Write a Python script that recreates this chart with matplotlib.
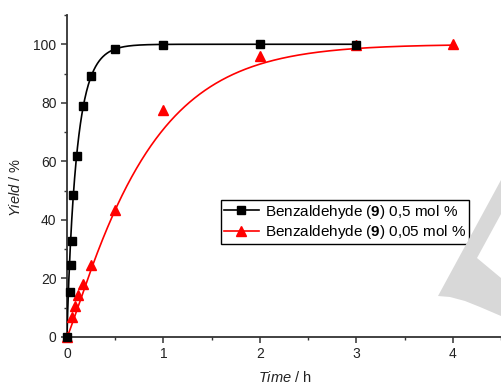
import matplotlib
matplotlib.use('Agg')
import matplotlib.pyplot as plt
import matplotlib.patches as mpatches
import numpy as np

plt.rcParams['font.family'] = ['Liberation Sans', 'DejaVu Sans']
plt.rcParams['mathtext.fontset'] = 'custom'
plt.rcParams['mathtext.rm'] = 'Liberation Sans'
plt.rcParams['mathtext.it'] = 'Liberation Sans:italic'
plt.rcParams['mathtext.bf'] = 'Liberation Sans:bold'

# data
t_high = [0, 0.035, 0.045, 0.05, 0.06, 0.1, 0.167, 0.25, 0.5, 1, 2, 3]
y_high = [0, 15.5, 24.6, 32.9, 48.6, 62, 78.8, 89.3, 98.4, 99.8, 100, 99.8]
t_low = [0, 0.05, 0.083, 0.117, 0.167, 0.25, 0.5, 1, 2, 3, 4]
y_low = [0, 7, 10.6, 14.2, 18, 24.6, 43.4, 77.4, 96, 99.6, 100]

# fitted curve parameters (y = 100(1 - exp(-(k t)^n)))
fit_high = (9.65, 0.9)
fit_low = (1.21, 1.12)

label_high = r'Benzaldehyde ($\mathbf{9}$) 0,5 mol %'
label_low = r'Benzaldehyde ($\mathbf{9}$) 0,05 mol %'

AX_COL = '#333333'


def fit_line(params, tmax):
    k, n = params
    tt = np.linspace(0, tmax, 800)
    return tt, 100 * (1 - np.exp(-(k * tt) ** n))


W, H = 501, 385
fig = plt.figure(figsize=(W / 100, H / 100), dpi=100)
fig.patch.set_facecolor('white')

# axes placed in pixel terms: x 67..501, y 15..337
ax = fig.add_axes([67 / W, 1 - 337 / H, (W - 67) / W, (337 - 15) / H])
ax.set_facecolor('none')
x_per_unit = (454 - 67) / 4
ax.set_xlim(0, (W - 67) / x_per_unit)
ax.set_ylim(0, 110)

tt, yy = fit_line(fit_high, max(t_high))
ax.plot(tt, yy, color='black', lw=1.2, zorder=3)
tt, yy = fit_line(fit_low, max(t_low))
ax.plot(tt, yy, color='red', lw=1.2, zorder=3)

ax.plot(t_low, y_low, 'r^', ms=7.5, zorder=4, clip_on=False)
ax.plot(t_high, y_high, 'ks', ms=6.3, zorder=5, clip_on=False)

# legend proxies
h1, = ax.plot([], [], color='black', marker='s', ms=6, lw=1.2)
h2, = ax.plot([], [], color='red', marker='^', ms=7, lw=1.2)
leg = ax.legend([h1, h2], [label_high, label_low], loc='upper left',
                bbox_to_anchor=((221 - 67) / (W - 67), (337 - 200) / (337 - 15)),
                fontsize=11, frameon=True, fancybox=False, framealpha=1,
                edgecolor='black', handlelength=2.3, handletextpad=0.4,
                borderpad=0.18, labelspacing=0.15, borderaxespad=0)
leg.get_frame().set_linewidth(1.0)

for s in ['top', 'right']:
    ax.spines[s].set_visible(False)
for s in ['left', 'bottom']:
    ax.spines[s].set_color(AX_COL)
    ax.spines[s].set_linewidth(1.3)

ax.set_xticks([0, 1, 2, 3, 4])
ax.set_xticks([0.5, 1.5, 2.5, 3.5, 4.5], minor=True)
ax.set_yticks([0, 20, 40, 60, 80, 100])
ax.set_yticks([10, 30, 50, 70, 90, 110], minor=True)
ax.tick_params(which='major', direction='out', length=4.5, width=1.1,
               color=AX_COL, labelsize=10, labelcolor='#222222', pad=3)
ax.tick_params(which='minor', direction='out', length=2.5, width=1.0,
               color=AX_COL)

ax.set_xlabel(r'$\mathit{Time}$ / h', fontsize=10.5, color='#222222')
ax.set_ylabel(r'$\mathit{Yield}$ / %', fontsize=10.5, color='#222222')
ax.xaxis.set_label_coords((285 - 67) / (W - 67), -(370 - 337) / (337 - 15))
ax.yaxis.set_label_coords(-(67 - 23) / (W - 67), (337 - 187) / (337 - 15))

# grey watermark shape in the lower right corner (pixel coords, y from top)
wm = [(501, 180), (438, 296), (450, 297), (465, 301), (480, 307),
      (501, 316), (501, 278), (477, 258), (501, 214)]
poly = mpatches.Polygon([(x / W, 1 - y / H) for x, y in wm], closed=True,
                        transform=fig.transFigure, facecolor='#d8d8d8',
                        edgecolor='none', zorder=1)
fig.add_artist(poly)

fig.savefig('out.png', dpi=100, facecolor='white')
